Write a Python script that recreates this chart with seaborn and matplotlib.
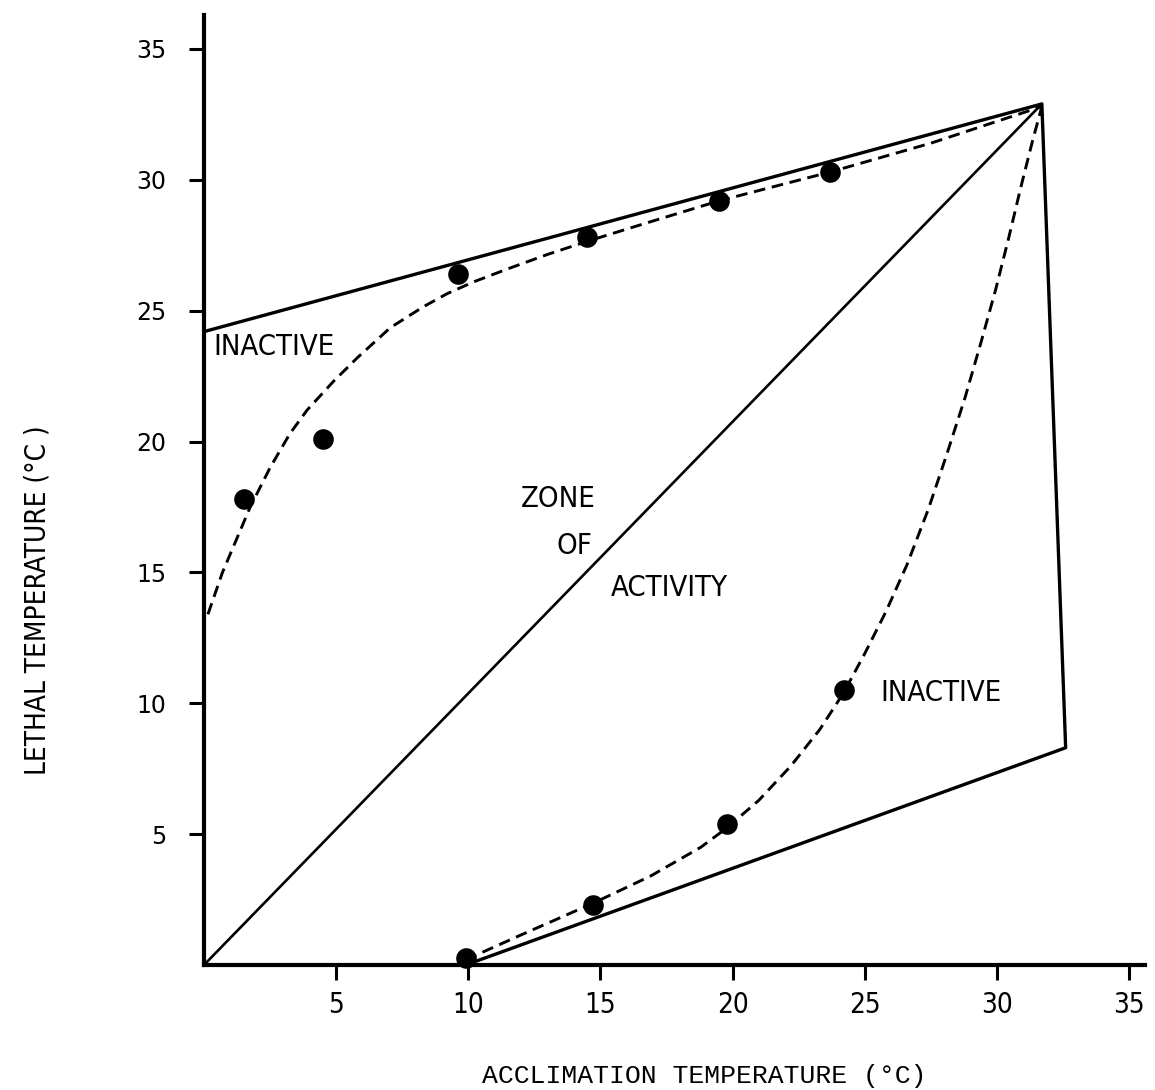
import matplotlib
matplotlib.use("Agg")
import matplotlib.pyplot as plt
import seaborn as sns
import pandas as pd

# Acclimation / lethal temperature readings (degrees C)
upper_obs_x = [1.5, 4.5, 9.6, 14.5, 19.5, 23.7]
upper_obs_y = [17.8, 20.1, 26.4, 27.8, 29.2, 30.3]
lower_obs_x = [9.9, 14.7, 19.8, 24.2]
lower_obs_y = [0.27, 2.3, 5.4, 10.5]

# Hand-fitted curves through the observations
upper_curve_x = [0.15, 0.7, 1.75, 2.5, 3.25, 3.9, 4.9, 5.8, 7.05, 8.3, 9.2, 10.2,
                 11.5, 13.0, 14.5, 16.9, 19.5, 23.7, 27.5, 31.7]
upper_curve_y = [13.4, 15.0, 17.5, 19.0, 20.3, 21.2, 22.3, 23.2, 24.35, 25.15, 25.65, 26.1,
                 26.6, 27.15, 27.65, 28.4, 29.2, 30.3, 31.4, 32.8]
lower_curve_x = [9.9, 12.0, 14.7, 16.9, 18.8, 19.8, 21.0, 22.2, 23.3, 24.2, 25.0,
                 25.8, 26.6, 27.4, 28.1, 28.8, 29.4, 29.95, 30.45, 30.9, 31.35, 31.7]
lower_curve_y = [0.2, 1.15, 2.35, 3.4, 4.5, 5.25, 6.3, 7.6, 9.0, 10.4, 11.9,
                 13.5, 15.3, 17.4, 19.5, 21.7, 23.8, 25.8, 27.8, 29.7, 31.5, 32.8]

# Tolerance polygon and the line of equality
boundary_x = [0.0, 31.7, 32.6, 9.9]
boundary_y = [24.2, 32.9, 8.3, 0.0]
equality_x = [0.0, 31.7]
equality_y = [0.0, 32.9]

tick_values = [5, 10, 15, 20, 25, 30, 35]
tick_labels = ["5", "10", "15", "20", "25", "30", "35"]

sns.set_style("ticks")
plt.rcParams["font.family"] = ["DejaVu Sans"]
for key in ("text.color", "axes.labelcolor", "xtick.color", "ytick.color", "axes.edgecolor"):
    plt.rcParams[key] = "black"

narrow = dict(family=["DejaVu Sans"], fontstretch="condensed")

fig = plt.figure(figsize=(11.55, 10.9), dpi=100)
ax = fig.add_axes([0.1766, 0.1147, 0.8147, 0.8716])

line_kw = dict(sort=False, estimator=None, color="black", legend=False, ax=ax)
dash = (0, (4.0, 2.3))

sns.lineplot(x=boundary_x, y=boundary_y, linewidth=2.4, **line_kw)
sns.lineplot(x=equality_x, y=equality_y, linewidth=1.9, **line_kw)
sns.lineplot(x=upper_curve_x, y=upper_curve_y, linewidth=2.1, linestyle=dash, **line_kw)
sns.lineplot(x=lower_curve_x, y=lower_curve_y, linewidth=2.1, linestyle=dash, **line_kw)
for ln in ax.lines:
    ln.set_clip_on(False)

obs = pd.DataFrame({
    "acclimation": upper_obs_x + lower_obs_x,
    "lethal": upper_obs_y + lower_obs_y,
})
sns.scatterplot(data=obs, x="acclimation", y="lethal", s=220, color="black",
                edgecolor="black", linewidth=0, ax=ax, clip_on=False, zorder=5)

ax.set_xlim(0, 35.6)
ax.set_ylim(0, 36.3)
ax.set_xticks(tick_values)
ax.set_xticklabels(tick_labels, fontsize=20, **narrow)
ax.set_yticks(tick_values)
ax.set_yticklabels(tick_labels, family=["DejaVu Sans"], fontsize=17)
ax.tick_params(axis="both", direction="out", length=11, width=2.2, colors="black")
ax.tick_params(axis="x", pad=8)
ax.tick_params(axis="y", pad=16)

for side in ("top", "right"):
    ax.spines[side].set_visible(False)
for side in ("left", "bottom"):
    ax.spines[side].set_linewidth(3.0)
    ax.spines[side].set_color("black")

ax.set_xlabel("ACCLIMATION TEMPERATURE (°C)", family=["Liberation Mono", "DejaVu Sans Mono"],
              fontsize=19)
ax.xaxis.set_label_coords(704 / 1155, 1 - 1076 / 1090, transform=fig.transFigure)
ax.xaxis.label.set_va("center")
ax.set_ylabel("LETHAL TEMPERATURE (°C )", fontsize=20, **narrow)
ax.yaxis.set_label_coords(38 / 1155, 1 - 600 / 1090, transform=fig.transFigure)
ax.yaxis.label.set_va("center")

text_kw = dict(fontsize=21, color="black", **narrow)
ax.text(0.34, 23.6, "INACTIVE", ha="left", va="center", **text_kw)
ax.text(13.4, 17.8, "ZONE", ha="center", va="center", **text_kw)
ax.text(14.0, 16.0, "OF", ha="center", va="center", **text_kw)
ax.text(17.6, 14.4, "ACTIVITY", ha="center", va="center", **text_kw)
ax.text(25.6, 10.4, "INACTIVE", ha="left", va="center", **text_kw)

fig.savefig("out.png", dpi=100, facecolor="white")
